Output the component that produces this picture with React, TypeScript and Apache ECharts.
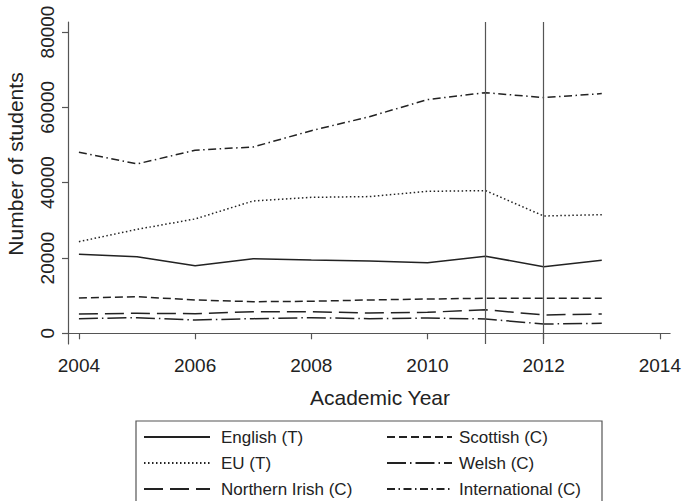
import React, { useEffect, useRef } from "react";
import * as echarts from "echarts";

const years = [2004, 2005, 2006, 2007, 2008, 2009, 2010, 2011, 2012, 2013];
const english = [20980, 20350, 17960, 19820, 19460, 19200, 18750, 20450, 17700, 19400];
const eu = [24330, 27600, 30360, 35140, 36100, 36300, 37700, 37880, 31150, 31500];
const northernIrish = [5130, 5310, 5220, 5750, 5740, 5390, 5570, 6270, 4860, 5130];
const scottish = [9380, 9720, 8850, 8400, 8500, 8850, 9100, 9300, 9300, 9300];
const welsh = [3890, 4150, 3530, 3890, 4150, 3890, 4060, 3800, 2470, 2650];
const international = [48070, 44970, 48600, 49480, 53800, 57510, 62050, 63900, 62580, 63640];

const xTicks = [2004, 2006, 2008, 2010, 2012, 2014];
const yTicks = [0, 20000, 40000, 60000, 80000];
const policyYears = [2011, 2012];

const FONT = "Liberation Sans, Arial, Helvetica, sans-serif";
const INK = "#222";
const AXIS = "#555";

const seriesDefs = [
  { name: "English (T)", data: english, dash: "solid" as any },
  { name: "EU (T)", data: eu, dash: [1.5, 2.5] },
  { name: "Northern Irish (C)", data: northernIrish, dash: [19, 7] },
  { name: "Scottish (C)", data: scottish, dash: [8, 4] },
  { name: "Welsh (C)", data: welsh, dash: [19, 4, 1.5, 4] },
  { name: "International (C)", data: international, dash: [8, 3.5, 1.5, 3.5] },
];

export default function App() {
  const ref = useRef<HTMLDivElement>(null);
  useEffect(() => {
    if (!ref.current) return;
    const chart = echarts.init(ref.current, undefined, { renderer: "svg" });
    const series: any[] = seriesDefs.map((s, i) => ({
      name: s.name,
      type: "line",
      data: years.map((y, j) => [y, s.data[j]]),
      symbol: "none",
      showSymbol: false,
      lineStyle: { color: INK, width: 1.5, type: s.dash },
      itemStyle: { color: INK },
      z: 3,
      ...(i === 0
        ? {
            markLine: {
              silent: true,
              symbol: "none",
              label: { show: false },
              lineStyle: { type: "solid", color: AXIS, width: 1.2 },
              data: policyYears.map((y) => ({ xAxis: y })),
            },
          }
        : {}),
    }));
    const legendCommon = {
      orient: "vertical",
      padding: 0,
      itemWidth: 66,
      itemHeight: 10,
      itemGap: 9,
      height: 80,
      itemStyle: { opacity: 0 },
      textStyle: { fontFamily: FONT, fontSize: 17, color: INK, lineHeight: 17 },
      selectedMode: false,
    };
    chart.setOption({
      animation: false,
      grid: { left: 68, right: 10, top: 22, bottom: 157 },
      xAxis: {
        type: "value",
        min: 2003.812,
        max: 2014.176,
        splitLine: { show: false },
        axisLine: { show: true, lineStyle: { color: AXIS, width: 1.2 } },
        axisTick: { show: true, length: 6, customValues: xTicks, lineStyle: { color: AXIS, width: 1.2 } },
        axisLabel: {
          customValues: xTicks,
          margin: 12,
          fontFamily: FONT,
          fontSize: 19,
          color: INK,
          formatter: (v: number) => String(v),
        },
      },
      yAxis: {
        type: "value",
        min: -2841,
        max: 82655,
        splitLine: { show: false },
        axisLine: { show: true, lineStyle: { color: AXIS, width: 1.2 } },
        axisTick: { show: true, length: 6, customValues: yTicks, lineStyle: { color: AXIS, width: 1.2 } },
        axisLabel: {
          customValues: yTicks,
          rotate: 90,
          margin: 11,
          fontFamily: FONT,
          fontSize: 19,
          color: INK,
          formatter: (v: number) => String(v),
        },
      },
      legend: [
        {
          ...legendCommon,
          left: 143,
          top: 428.5,
          textStyle: { ...legendCommon.textStyle, padding: [0, 0, 0, 6] },
          data: seriesDefs.slice(0, 3).map((s) => s.name),
        },
        {
          ...legendCommon,
          left: 386,
          itemWidth: 65,
          top: 428.5,
          textStyle: { ...legendCommon.textStyle, padding: [0, 0, 0, 2] },
          data: seriesDefs.slice(3).map((s) => s.name),
        },
      ],
      graphic: [
        {
          type: "rect",
          shape: { x: 136, y: 421, width: 466, height: 100 },
          style: { fill: "none", stroke: AXIS, lineWidth: 1.2 },
          silent: true,
        },
        {
          type: "text",
          x: 380,
          y: 397,
          style: {
            text: "Academic Year",
            fontFamily: FONT,
            fontSize: 21,
            fill: INK,
            align: "center",
            verticalAlign: "middle",
          },
        },
        {
          type: "text",
          x: 15.5,
          y: 164,
          rotation: Math.PI / 2,
          style: {
            text: "Number of students",
            fontFamily: FONT,
            fontSize: 21,
            fill: INK,
            align: "center",
            verticalAlign: "middle",
          },
        },
      ],
      series,
    });
    return () => chart.dispose();
  }, []);
  return (
    <div
      ref={ref}
      style={{ position: "fixed", left: 0, top: 0, width: 684, height: 501, background: "#fff" }}
    />
  );
}
